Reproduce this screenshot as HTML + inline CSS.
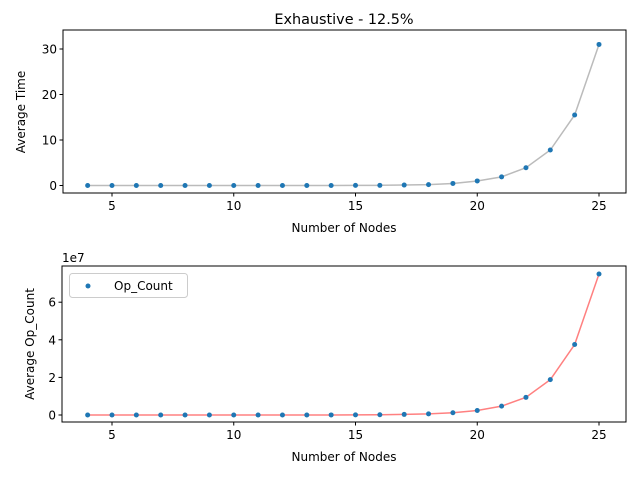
<!DOCTYPE html>
<html><head><meta charset="utf-8"><style>
body{margin:0;background:#fff;font-family:"Liberation Sans","DejaVu Sans",sans-serif}
svg text{font-family:"DejaVu Sans","Liberation Sans",sans-serif;font-size:12px;fill:#000}
</style></head><body>
<svg id="c" width="640" height="480"></svg>
<script>
const nodes=[4,5,6,7,8,9,10,11,12,13,14,15,16,17,18,19,20,21,22,23,24,25];
const avgTime=[0,0,0,0,0,0,0,0,0,0,0,0.02,0.04,0.1,0.2,0.45,1.0,1.9,3.9,7.8,15.5,31];
const opCount=[0,0,0,0,0,0,0,0.0002,0.0005,0.001,0.003,0.007,0.015,0.03,0.06,0.12,0.24,0.47,0.94,1.88,3.75,7.5];
const xTicks=[5,10,15,20,25];
const yTicksTop=[0,10,20,30];
const yTicksBot=[0,2,4,6];
const NS="http://www.w3.org/2000/svg";
const svg=document.getElementById('c');
function mk(t,a,p){const e=document.createElementNS(NS,t);for(const k in a)e.setAttribute(k,a[k]);(p||svg).appendChild(e);return e;}
const xs=v=>112+(v-5)*24.35;
function panel(L,T,R,B,ys,vals,yt,lineColor,name){
  const g=mk('g',{});
  
  
  let d='';vals.forEach((v,i)=>{d+=(i?'L':'M')+xs(nodes[i])+','+ys(v);});
  const ln=mk('path',{d:d,fill:'none',stroke:lineColor,'stroke-width':1.5},g);
  
  
  vals.forEach((v,i)=>{const c=mk('circle',{cx:xs(nodes[i]),cy:ys(v),r:2.5,fill:'#1f77b4'},g);
    
    });
  const fr=mk('rect',{x:L,y:T,width:R-L,height:B-T,fill:'none',stroke:'#000','stroke-width':1},g);
  
  
  xTicks.forEach(t=>{mk('line',{x1:xs(t),x2:xs(t),y1:B,y2:B+3.5,stroke:'#000'},g);
    const tx=mk('text',{x:xs(t),y:B+17,'text-anchor':'middle'},g);tx.textContent=t;
    
    });
  yt.forEach(t=>{mk('line',{x1:L-3.5,x2:L,y1:ys(t),y2:ys(t),stroke:'#000'},g);
    const tx=mk('text',{x:L-6,y:ys(t)+4.5,'text-anchor':'end'},g);tx.textContent=t;
    
    });
}
panel(63,30,626,193,v=>185.5-v*4.55,avgTime,yTicksTop,'#bbbbbb','time-panel');
panel(62,266,626,422,v=>415-v*18.8,opCount,yTicksBot,'#ff8080','opcount-panel');
function txt(s,a,name){const t=mk('text',a);t.textContent=s;return t;}
txt('Exhaustive - 12.5%',{x:344,y:24,'text-anchor':'middle',style:'font-size:14.4px'},'chart-title');
txt('Number of Nodes',{x:344,y:232,'text-anchor':'middle'},'x-axis-title-top');
txt('Number of Nodes',{x:344,y:461,'text-anchor':'middle'},'x-axis-title-bottom');
txt('Average Time',{x:0,y:0,'text-anchor':'middle',transform:'translate(25,112) rotate(-90)'},'y-axis-title-top');
txt('Average Op_Count',{x:0,y:0,'text-anchor':'middle',transform:'translate(34,344) rotate(-90)'},'y-axis-title-bottom');
txt('1e7',{x:62,y:262},'y-offset-label');
const lg=mk('g',{});


mk('rect',{x:69.5,y:273.5,width:118,height:24,rx:3,fill:'#fff',stroke:'#ccc'},lg);
mk('circle',{cx:88,cy:286,r:2.5,fill:'#1f77b4'},lg);
const le=mk('text',{x:114,y:290},lg);le.textContent='Op_Count';


</script>
</body></html>
